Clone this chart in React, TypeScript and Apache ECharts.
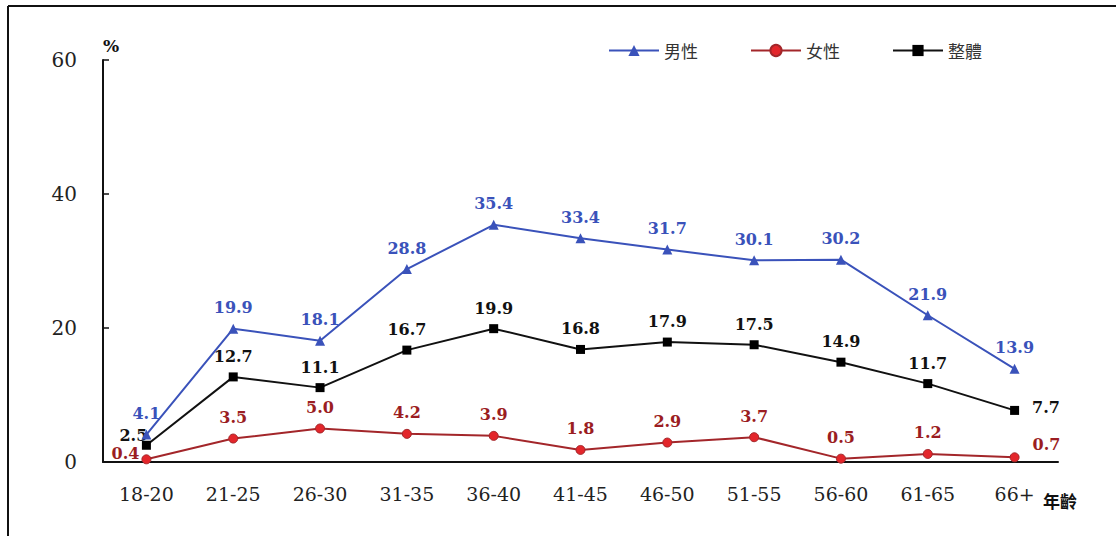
import React, { useEffect, useRef } from "react";
import * as echarts from "echarts";

const categories = ["18-20", "21-25", "26-30", "31-35", "36-40", "41-45", "46-50", "51-55", "56-60", "61-65", "66+"];
const maleValues = [4.1, 19.9, 18.1, 28.8, 35.4, 33.4, 31.7, 30.1, 30.2, 21.9, 13.9];
const femaleValues = [0.4, 3.5, 5.0, 4.2, 3.9, 1.8, 2.9, 3.7, 0.5, 1.2, 0.7];
const totalValues = [2.5, 12.7, 11.1, 16.7, 19.9, 16.8, 17.9, 17.5, 14.9, 11.7, 7.7];
const seriesNames = ["男性", "女性", "整體"];
const yMin = 0;
const yMax = 60;
const yInterval = 20;
const yAxisName = "%";
const xAxisName = "年齡";

const SERIF = "DejaVu Serif";
const CJK = "Noto Sans CJK TC";
const BLUE = "#3A52BA";
const RED_LINE = "#A3262A";
const RED_FILL = "#E3262B";
const RED_TEXT = "#9B1D22";

const fmt = (p: any) => Number(p.value).toFixed(1);

export default function App() {
  const ref = useRef<HTMLDivElement>(null);
  useEffect(() => {
    if (!ref.current) return;
    const chart = echarts.init(ref.current, null, { renderer: "svg" });
    const last = categories.length - 1;

    const maleData = maleValues.map((v) => v);
    const femaleData = femaleValues.map((v, i) => {
      if (i === 0) return { value: v, label: { position: "left", distance: 2, offset: [0, -6] } };
      if (i === last) return { value: v, label: { position: "right", distance: 13, offset: [0, -13] } };
      return v;
    });
    const totalData = totalValues.map((v, i) => {
      if (i === 0) return { value: v, label: { position: "top", offset: [-13, 11] } };
      if (i === last) return { value: v, label: { position: "right", distance: 13, offset: [0, -3] } };
      return v;
    });

    const labelBase = {
      show: true,
      position: "top",
      distance: 8,
      fontFamily: SERIF,
      fontWeight: "bold",
      fontSize: 16,
      formatter: fmt,
    };

    chart.setOption({
      animation: false,
      backgroundColor: "#ffffff",
      graphic: [
        { type: "line", shape: { x1: 8, y1: 6, x2: 1116, y2: 6 }, style: { stroke: "#111", lineWidth: 2 } },
        { type: "line", shape: { x1: 8, y1: 6, x2: 8, y2: 536 }, style: { stroke: "#111", lineWidth: 2 } },
      ],
      legend: {
        left: 603,
        top: 37,
        itemWidth: 50,
        itemHeight: 14,
        itemGap: 52,
        textStyle: { fontFamily: CJK, fontSize: 17, color: "#333" },
        data: seriesNames,
      },
      grid: { left: 103, right: 58, top: 60, bottom: 74 },
      xAxis: {
        type: "category",
        data: categories,
        boundaryGap: true,
        name: xAxisName,
        nameLocation: "end",
        nameGap: 2,
        nameTextStyle: {
          fontFamily: CJK,
          fontWeight: "bold",
          fontSize: 17,
          color: "#111",
          align: "center",
          verticalAlign: "top",
          padding: [30, 0, 0, 0],
        },
        axisLine: { lineStyle: { color: "#111", width: 2 } },
        axisTick: { inside: true, length: 7, lineStyle: { color: "#111", width: 1.5 } },
        axisLabel: { margin: 22, fontFamily: SERIF, fontSize: 19, color: "#222" },
      },
      yAxis: {
        type: "value",
        min: yMin,
        max: yMax,
        interval: yInterval,
        name: yAxisName,
        nameLocation: "end",
        nameGap: 6,
        nameTextStyle: { fontFamily: SERIF, fontWeight: "bold", fontSize: 17, color: "#111", align: "left", padding: [0, 0, 0, 0] },
        axisLine: { show: true, lineStyle: { color: "#111", width: 2 } },
        axisTick: { show: true, inside: true, length: 6, lineStyle: { color: "#111", width: 1.5 } },
        axisLabel: { margin: 26, fontFamily: SERIF, fontSize: 20, color: "#222" },
        splitLine: { show: false },
      },
      series: [
        {
          name: seriesNames[0],
          type: "line",
          data: maleData,
          symbol: "triangle",
          symbolSize: 10,
          lineStyle: { color: BLUE, width: 2 },
          itemStyle: { color: BLUE },
          label: { ...labelBase, color: BLUE },
          z: 3,
        },
        {
          name: seriesNames[1],
          type: "line",
          data: femaleData,
          symbol: "circle",
          symbolSize: 9,
          lineStyle: { color: RED_LINE, width: 2 },
          itemStyle: { color: RED_FILL, borderColor: RED_LINE, borderWidth: 1 },
          label: { ...labelBase, color: RED_TEXT },
          z: 2,
        },
        {
          name: seriesNames[2],
          type: "line",
          data: totalData,
          symbol: "rect",
          symbolSize: 9,
          lineStyle: { color: "#111", width: 2 },
          itemStyle: { color: "#000" },
          label: { ...labelBase, color: "#111" },
          z: 2,
        },
      ],
    });
    return () => chart.dispose();
  }, []);
  return <div ref={ref} style={{ position: "fixed", left: 0, top: 0, width: 1116, height: 536 }} />;
}
